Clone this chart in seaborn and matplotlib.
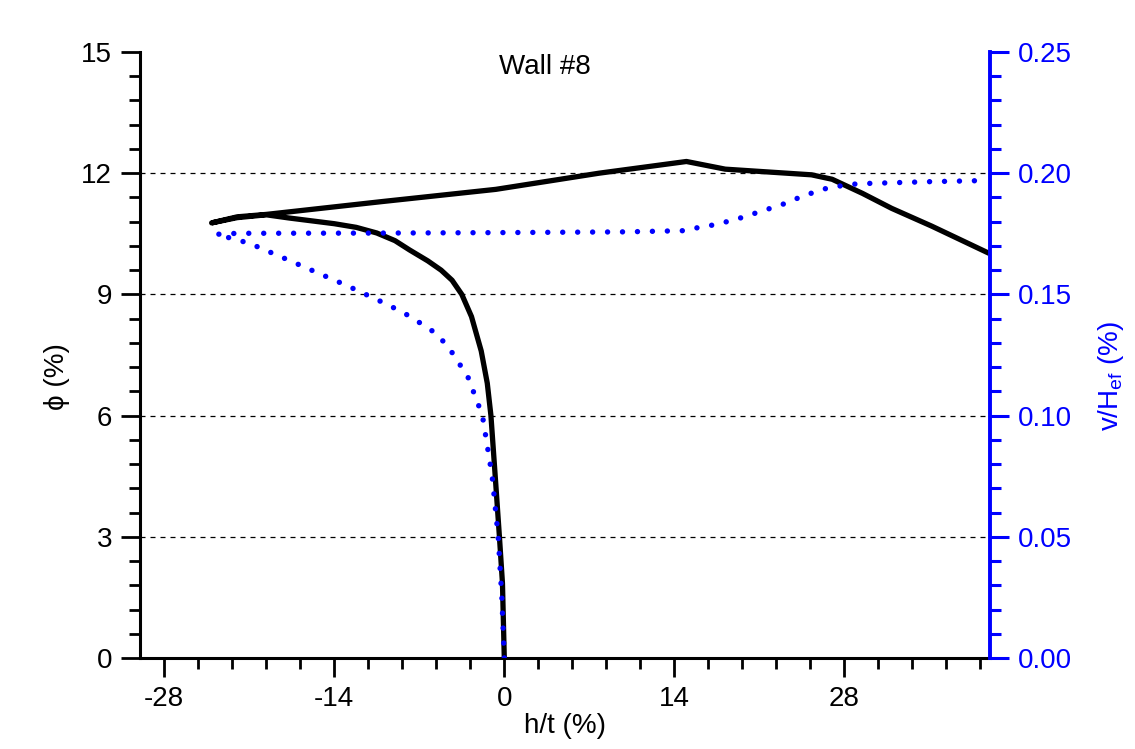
import matplotlib
matplotlib.use("Agg")
import matplotlib.pyplot as plt
from matplotlib.ticker import MultipleLocator, FormatStrFormatter
import seaborn as sns
import pandas as pd

# ---- data ----
black_x = [0, -0.15, -0.4, -0.7, -1.1, -1.4, -1.9, -2.7, -3.5, -4.3, -5.2, -6.3,
           -7.8, -9.0, -10.5, -12.2, -14.0, -17.7, -19.6, -22.0, -24.1, -22.0,
           -19.6, -10.0, -0.7, 7.8, 15.0, 18.2, 25.3, 27.0, 29.5, 31.9, 35.2, 39.9]
black_phi = [0, 1.85, 3.0, 4.3, 6.0, 6.8, 7.6, 8.45, 9.0, 9.35, 9.6, 9.83,
             10.1, 10.33, 10.52, 10.66, 10.75, 10.89, 10.97, 10.9, 10.77, 10.92,
             10.98, 11.3, 11.6, 12.0, 12.29, 12.1, 11.96, 11.85, 11.5, 11.13,
             10.69, 10.02]

blue_x = [0, -0.2, -0.5, -1.0, -1.8, -3.0, -4.3, -4.9, -5.8, -7.6, -8.5, -10.3,
          -12.9, -15.6, -18.3, -21.0, -23.7, -22.0, -10.0, 0.0, 10.0, 14.9, 15.8,
          17.5, 19.3, 21.1, 22.9, 24.7, 26.5, 28.4, 30.1, 35.0, 39.9]
blue_v = [0, 0.025, 0.05, 0.075, 0.10, 0.116, 0.126, 0.130, 0.1345, 0.1404, 0.143,
          0.1474, 0.1535, 0.1594, 0.1653, 0.1711, 0.1748, 0.1752, 0.1753, 0.1755,
          0.1758, 0.1763, 0.1774, 0.1789, 0.1813, 0.1842, 0.1871, 0.1908, 0.1937,
          0.1954, 0.1958, 0.1965, 0.1970]

x_ticks = [-28, -14, 0, 14, 28]
title = "Wall #8"

df_black = pd.DataFrame({"x": black_x, "y": black_phi})
df_blue = pd.DataFrame({"x": blue_x, "y": blue_v})

sns.set_theme(style="white")
plt.rcParams["font.family"] = ["Liberation Sans", "DejaVu Sans"]
plt.rcParams["mathtext.default"] = "regular"
plt.rcParams["axes.unicode_minus"] = False
plt.rcParams["text.color"] = "black"
plt.rcParams["axes.labelcolor"] = "black"
plt.rcParams["xtick.color"] = "black"
plt.rcParams["ytick.color"] = "black"

BLUE = "#0000ff"
FS = 20

fig = plt.figure(figsize=(11.35, 7.49), dpi=100)
ax = fig.add_axes([140 / 1135, 1 - 658 / 749, 850 / 1135, 606 / 749])
ax2 = ax.twinx()

sns.lineplot(data=df_black, x="x", y="y", sort=False, estimator=None, ax=ax,
             color="black", linewidth=3.8)
sns.lineplot(data=df_blue, x="x", y="y", sort=False, estimator=None, ax=ax2,
             color=BLUE, linewidth=3.9)
for ln in ax.get_lines():
    ln.set_solid_joinstyle("round")
for ln in ax2.get_lines():
    ln.set_dashes((0.01, 2.75))
    ln.set_dash_capstyle("round")

ax.set_xlim(-30, 40)
ax.set_ylim(0, 15)
ax2.set_ylim(0, 0.25)

ax.set_xticks(x_ticks)
ax.xaxis.set_minor_locator(MultipleLocator(2.8))
ax.yaxis.set_major_locator(MultipleLocator(3))
ax.yaxis.set_minor_locator(MultipleLocator(0.6))
ax2.yaxis.set_major_locator(MultipleLocator(0.05))
ax2.yaxis.set_minor_locator(MultipleLocator(0.01))
ax2.yaxis.set_major_formatter(FormatStrFormatter("%.2f"))

# grid lines at the interior major ticks
for yv in [3, 6, 9, 12]:
    ax.axhline(yv, color="black", linewidth=0.9, linestyle=(0, (4, 4)), zorder=0)

for a in (ax, ax2):
    a.spines["top"].set_visible(False)
    a.grid(False)
ax2.spines["left"].set_visible(False)
ax2.spines["bottom"].set_visible(False)
for s in ("left", "bottom"):
    ax.spines[s].set_color("black")
    ax.spines[s].set_linewidth(2.2)
ax.spines["right"].set_visible(False)
ax2.spines["right"].set_color(BLUE)
ax2.spines["right"].set_linewidth(2.8)

ax.tick_params(axis="both", which="major", direction="out", length=14, width=2,
               color="black", labelcolor="black", labelsize=FS, pad=6,
               left=True, bottom=True)
ax.tick_params(axis="both", which="minor", direction="out", length=8, width=2,
               color="black", left=True, bottom=True)
ax.tick_params(axis="y", which="both", right=False)
ax2.tick_params(axis="y", which="major", direction="out", length=14, width=2.2,
                color=BLUE, labelcolor=BLUE, labelsize=FS, pad=6, right=True)
ax2.tick_params(axis="y", which="minor", direction="out", length=8, width=2.2,
                color=BLUE, right=True)

ax.set_xlabel("h/t (%)", fontsize=FS)
ax.set_ylabel("ϕ (%)", fontsize=FS)
ax2.set_ylabel("v/H$_{ef}$ (%)", fontsize=FS, color=BLUE)
ax.xaxis.set_label_coords(0.5, -0.091)
ax.yaxis.set_label_coords(-0.082, 0.465)
ax2.yaxis.set_label_coords(1.125, 0.465)

ax.text(0.476, 0.975, title, transform=ax.transAxes, ha="center", va="center",
        fontsize=FS, color="black")

fig.savefig("out.png", dpi=100)
